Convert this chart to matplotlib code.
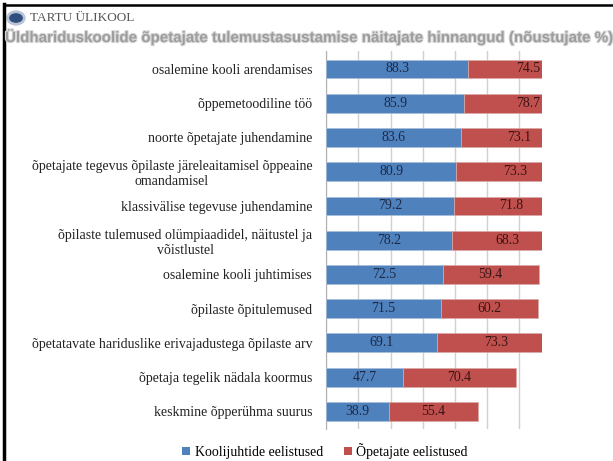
import matplotlib.pyplot as plt
import matplotlib.patheffects as pe
from matplotlib.patches import Circle, Patch
from matplotlib.lines import Line2D
import numpy as np

# -----------------------------
# Data
# -----------------------------
categories = [
    "osalemine kooli arendamises",
    "õppemetoodiline töö",
    "noorte õpetajate juhendamine",
    "õpetajate tegevus õpilaste järeleaitamisel õppeaine\nomandamisel",
    "klassivälise tegevuse juhendamine",
    "õpilaste tulemused olümpiaadidel, näitustel ja\nvõistlustel",
    "osalemine kooli juhtimises",
    "õpilaste õpitulemused",
    "õpetatavate hariduslike erivajadustega õpilaste arv",
    "õpetaja tegelik nädala koormus",
    "keskmine õpperühma suurus",
]
koolijuhid = [88.3, 85.9, 83.6, 80.9, 79.2, 78.2, 72.5, 71.5, 69.1, 47.7, 38.9]
opetajad = [74.5, 78.7, 73.1, 73.3, 71.8, 68.3, 59.4, 60.2, 73.3, 70.4, 55.4]
series_names = ["Koolijuhtide eelistused", "Õpetajate eelistused"]

BLUE = "#4F81BD"
RED = "#C0504D"
SERIF = ["Liberation Serif", "DejaVu Serif"]

# -----------------------------
# Figure
# -----------------------------
fig = plt.figure(figsize=(6.13, 4.61), dpi=100)
ax = fig.add_axes([0.532, 0.069, 0.352, 0.820])

y = np.arange(len(categories))
ax.barh(y, koolijuhid, height=0.55, color=BLUE, edgecolor="#a9bfdc", linewidth=0.5, zorder=3)
ax.barh(y, opetajad, left=koolijuhid, height=0.55, color=RED, edgecolor="#dca9a8",
        linewidth=0.5, zorder=3)

# data labels
for i in range(len(categories)):
    b, r = koolijuhid[i], opetajad[i]
    ax.text(b / 2, i, f"{b:.1f}", ha="center", va="center", fontsize=10,
            family=SERIF, color="#1c2a48", zorder=4)
    ax.text(b + r / 2, i, f"{r:.1f}", ha="center", va="center", fontsize=10,
            family=SERIF, color="#3a1414", zorder=4, clip_on=True)

ax.set_xlim(0, 134)
ax.set_ylim(10.52, -0.52)
ax.set_xticks(np.arange(0, 121, 20))
ax.set_xticklabels([])
ax.tick_params(axis="x", length=0)
ax.grid(axis="x", color="#d0d0d0", linewidth=1, zorder=0)
ax.set_yticks(y)
ax.set_yticklabels(categories, family=SERIF, fontsize=10, color="#222222")
for t in ax.get_yticklabels():
    t.set_multialignment("center")
ax.tick_params(axis="y", length=0, pad=10)
for s in ["top", "right", "bottom"]:
    ax.spines[s].set_visible(False)
ax.spines["left"].set_color("#b0b0b0")

# -----------------------------
# Header: logo + title
# -----------------------------
fig.patches.append(Circle((16 / 613, 1 - 18 / 461), 0.0135, transform=fig.transFigure,
                          facecolor="#2f4f7f", edgecolor="#b8c4d6", linewidth=2))
fig.text(30 / 613, 1 - 18 / 461, "TARTU ÜLIKOOL", family=SERIF, fontsize=9.5,
         color="#555555", va="center", ha="left")
fig.text(5 / 613, 1 - 37 / 461,
         "Üldhariduskoolide õpetajate tulemustasustamise näitajate hinnangud (nõustujate %)",
         family=["Liberation Sans", "DejaVu Sans"],
         fontweight="bold", fontsize=10.9, color="#9d9d9d", va="center", ha="left",
         path_effects=[pe.withStroke(linewidth=1.5, foreground="#d8d8d8")])

# frame lines
fig.add_artist(Line2D([3.5 / 613, 3.5 / 613], [0, 1 - 4 / 461], transform=fig.transFigure,
                      color="black", linewidth=2.5))
fig.add_artist(Line2D([3.5 / 613, 1], [1 - 5 / 461, 1 - 5 / 461], transform=fig.transFigure,
                      color="black", linewidth=1.8))

# -----------------------------
# Legend
# -----------------------------
handles = [Patch(facecolor=BLUE), Patch(facecolor=RED)]
fig.legend(handles, series_names, loc="center", bbox_to_anchor=(0.53, 1 - 451 / 461),
           ncol=2, frameon=False, prop={"family": SERIF, "size": 10},
           handlelength=0.6, handleheight=0.6, handletextpad=0.3, columnspacing=1.5)

fig.savefig("out.png", dpi=100)
